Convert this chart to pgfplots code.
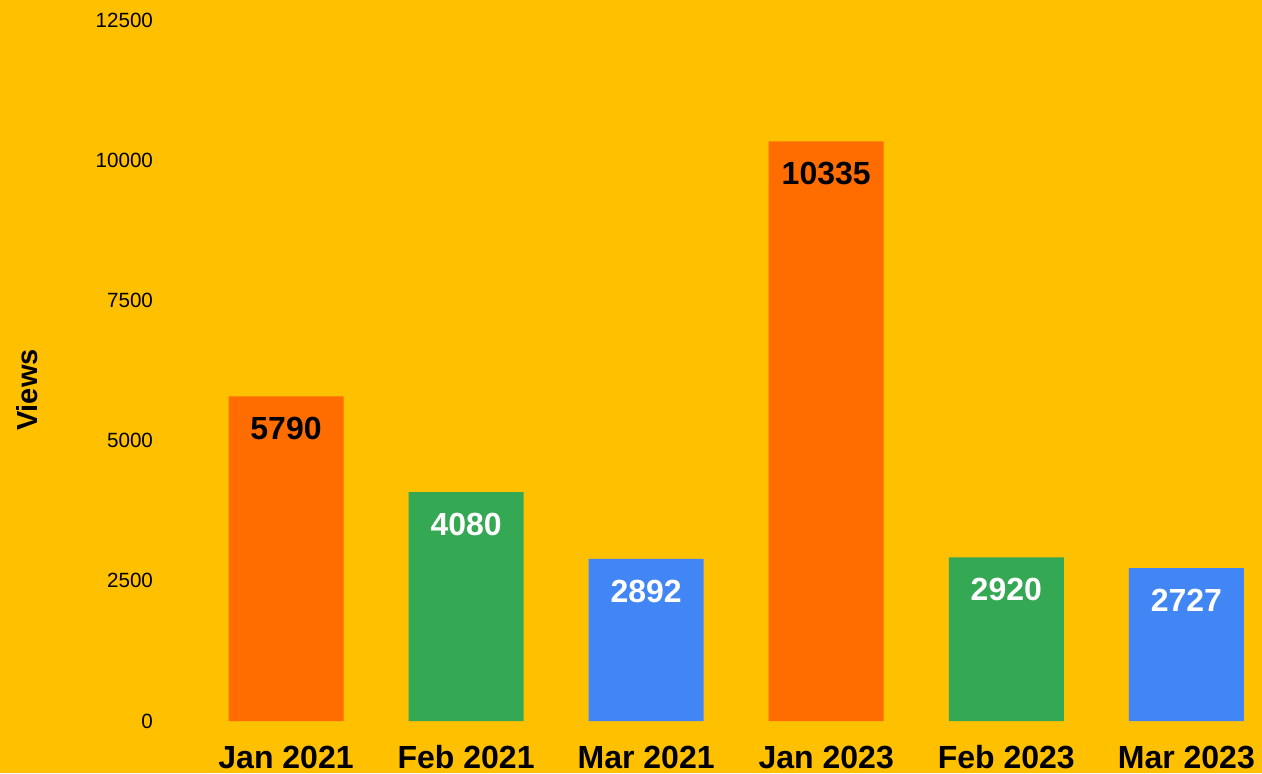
\documentclass[border=0pt]{standalone}
\usepackage{pgfplots}
\pgfplotsset{compat=1.18}
\usepackage{fontspec}
\setmainfont{Liberation Sans}
\definecolor{bg}{HTML}{FFC000}
\definecolor{cOrange}{HTML}{FF6D01}
\definecolor{cGreen}{HTML}{34A853}
\definecolor{cBlue}{HTML}{4285F4}
\begin{document}
\begin{tikzpicture}
\fill[bg] (0,0) rectangle (631pt,386.5pt);
\useasboundingbox (0,0) rectangle (631pt,386.5pt);
\begin{axis}[
  at={(98pt,26pt)}, anchor=south west,
  scale only axis,
  width=533pt, height=350.5pt,
  xmin=-0.5, xmax=5.42,
  ymin=0, ymax=12500,
  ytick={0,2500,5000,7500,10000,12500},
  scaled y ticks=false,
  xtick={0,1,2,3,4,5},
  xticklabels={Jan 2021,Feb 2021,Mar 2021,Jan 2023,Feb 2023,Mar 2023},
  /pgf/number format/assume math mode=true,
  /pgf/number format/1000 sep={},
  axis line style={draw=none},
  major tick length=0pt,
  yticklabel style={font=\fontsize{10.3}{12}\selectfont, anchor=east, xshift=-18pt},
  xticklabel style={font=\fontsize{16}{19}\selectfont\bfseries, anchor=north, yshift=-8.8pt},
  ylabel={Views},
  every axis y label/.style={at={(axis description cs:-0.158,0.472)}, rotate=90, anchor=center, font=\fontsize{14.5}{17}\selectfont\bfseries},
  ybar, bar width=57.5pt, bar shift=0pt,
  nodes near coords,
  nodes near coords align={center},
  every node near coord/.append style={anchor=north, yshift=-7pt, font=\fontsize{16}{19}\selectfont\bfseries},
  clip=false,
]
\addplot[fill=cOrange, draw=none, every node near coord/.append style={text=black}] coordinates {(0,5790) (3,10335)};
\addplot[fill=cGreen, draw=none, every node near coord/.append style={text=white}] coordinates {(1,4080) (4,2920)};
\addplot[fill=cBlue, draw=none, every node near coord/.append style={text=white}] coordinates {(2,2892) (5,2727)};
\end{axis}
\end{tikzpicture}
\end{document}
